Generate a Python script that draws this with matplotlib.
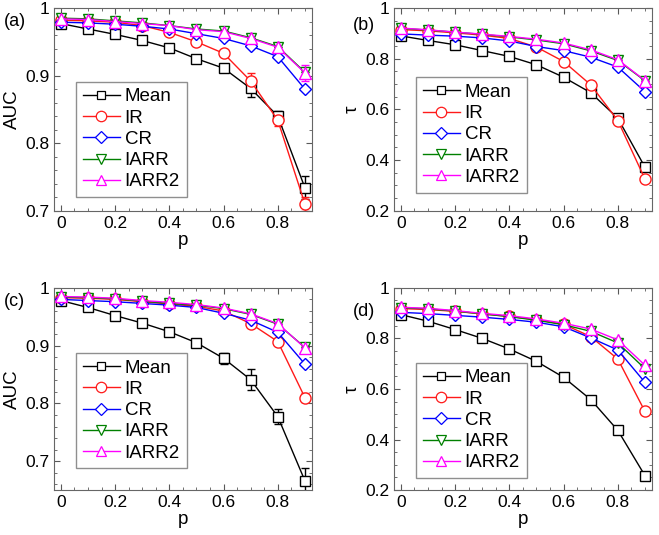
import matplotlib
matplotlib.use('Agg')
import matplotlib.pyplot as plt
import numpy as np
from matplotlib.lines import Line2D
from matplotlib.ticker import AutoMinorLocator, FormatStrFormatter

plt.rcParams['font.family'] = ['Liberation Sans', 'DejaVu Sans']

p = [0, 0.1, 0.2, 0.3, 0.4, 0.5, 0.6, 0.7, 0.8, 0.9]
names = ['Mean', 'IR', 'CR', 'IARR', 'IARR2']

###### (a) AUC ##########
a_mean  = [0.977, 0.969, 0.961, 0.952, 0.941, 0.925, 0.911, 0.881, 0.840, 0.734]
a_ir    = [0.982, 0.981, 0.979, 0.974, 0.964, 0.950, 0.933, 0.892, 0.834, 0.710]
a_cr    = [0.979, 0.978, 0.976, 0.973, 0.969, 0.962, 0.955, 0.944, 0.928, 0.880]
a_iarr  = [0.985, 0.984, 0.981, 0.978, 0.974, 0.969, 0.966, 0.956, 0.943, 0.905]
a_iarr2 = [0.984, 0.983, 0.980, 0.977, 0.974, 0.968, 0.965, 0.955, 0.942, 0.904]
a_err_mean = [0.002, 0.002, 0.002, 0.003, 0.003, 0.006, 0.004, 0.012, 0.008, 0.017]
a_err_ir   = [0.002, 0.002, 0.002, 0.002, 0.003, 0.004, 0.004, 0.012, 0.008, 0.010]
a_err_iarr2 = [0.002, 0.002, 0.002, 0.002, 0.002, 0.002, 0.003, 0.004, 0.005, 0.012]

###### (b) tau ##########
b_mean  = [0.890, 0.872, 0.855, 0.832, 0.809, 0.776, 0.727, 0.666, 0.565, 0.372]
b_ir    = [0.915, 0.910, 0.902, 0.893, 0.880, 0.846, 0.789, 0.697, 0.556, 0.325]
b_cr    = [0.898, 0.893, 0.889, 0.882, 0.870, 0.848, 0.832, 0.806, 0.767, 0.670]
b_iarr  = [0.920, 0.913, 0.905, 0.896, 0.886, 0.874, 0.859, 0.831, 0.793, 0.713]
b_iarr2 = [0.921, 0.914, 0.905, 0.897, 0.888, 0.877, 0.862, 0.835, 0.796, 0.714]

###### (c) AUC ##########
c_mean  = [0.978, 0.966, 0.952, 0.939, 0.924, 0.905, 0.878, 0.841, 0.777, 0.666]
c_ir    = [0.983, 0.982, 0.980, 0.976, 0.972, 0.968, 0.960, 0.938, 0.907, 0.810]
c_cr    = [0.980, 0.978, 0.976, 0.973, 0.970, 0.966, 0.956, 0.944, 0.923, 0.868]
c_iarr  = [0.984, 0.983, 0.981, 0.977, 0.973, 0.970, 0.964, 0.954, 0.937, 0.897]
c_iarr2 = [0.985, 0.984, 0.982, 0.978, 0.975, 0.971, 0.965, 0.955, 0.938, 0.896]
c_err_mean = [0.002, 0.002, 0.002, 0.003, 0.006, 0.004, 0.010, 0.018, 0.013, 0.022]
c_err_ir   = [0.002, 0.002, 0.002, 0.002, 0.002, 0.002, 0.003, 0.004, 0.004, 0.008]

###### (d) tau ##########
d_mean  = [0.894, 0.868, 0.835, 0.800, 0.758, 0.709, 0.646, 0.558, 0.436, 0.257]
d_ir    = [0.918, 0.914, 0.907, 0.897, 0.887, 0.874, 0.856, 0.807, 0.718, 0.511]
d_cr    = [0.903, 0.898, 0.891, 0.884, 0.875, 0.864, 0.846, 0.802, 0.754, 0.626]
d_iarr  = [0.921, 0.917, 0.908, 0.897, 0.886, 0.872, 0.854, 0.828, 0.782, 0.680]
d_iarr2 = [0.923, 0.919, 0.910, 0.899, 0.890, 0.877, 0.860, 0.837, 0.794, 0.694]

colors = ['black', '#ff1a1a', '#0000ff', '#008000', '#ff00ff']
markers = ['s', 'o', 'D', 'v', '^']
msizes = [6.5, 8, 6.5, 7, 8]
zero = [0] * 10


def panel(ax, series, errs, ylim, yticks, ylab, ymin_sub, leg_y):
    for i in range(5):
        ax.errorbar(p, series[i], yerr=errs[i], color=colors[i], marker=markers[i],
                    markersize=msizes[i], markerfacecolor='white', markeredgewidth=1,
                    lw=1, capsize=3, elinewidth=1)
    ax.set_xlim(-0.025, 0.925)
    ax.set_ylim(ylim)
    ax.set_xticks([0, 0.2, 0.4, 0.6, 0.8])
    ax.set_yticks(yticks)
    ax.xaxis.set_major_formatter(FormatStrFormatter('%g'))
    ax.yaxis.set_major_formatter(FormatStrFormatter('%g'))
    ax.xaxis.set_minor_locator(AutoMinorLocator(4))
    ax.yaxis.set_minor_locator(AutoMinorLocator(ymin_sub))
    ax.tick_params(which='both', direction='in', top=True, right=True, labelsize=12.5,
                   color='0.35')
    ax.tick_params(which='major', length=4)
    ax.tick_params(which='minor', length=2)
    for s in ax.spines.values():
        s.set_color('0.4')
    ax.set_xlabel('p', fontsize=13.5, labelpad=1)
    ax.set_ylabel(ylab, fontsize=13.5, labelpad=3)
    handles = []
    for i in range(5):
        handles.append(Line2D([], [], color=colors[i], marker=markers[i], lw=1,
                              markersize=msizes[i] - 0.5, markerfacecolor='white',
                              markeredgewidth=0.9))
    leg = ax.legend(handles, names, loc='lower left', bbox_to_anchor=(0.085, leg_y),
                    fontsize=13.5, handlelength=2.0, labelspacing=0.22,
                    handletextpad=0.25, borderpad=0.35, fancybox=False,
                    borderaxespad=0)
    leg.get_frame().set_edgecolor('0.45')
    leg.get_frame().set_linewidth(1)


fig = plt.figure(figsize=(6.59, 5.35), dpi=100)
ax_a = fig.add_axes([0.082, 0.606, 0.391, 0.379])
ax_b = fig.add_axes([0.598, 0.606, 0.391, 0.379])
ax_c = fig.add_axes([0.082, 0.084, 0.391, 0.378])
ax_d = fig.add_axes([0.598, 0.084, 0.391, 0.378])

panel(ax_a, [a_mean, a_ir, a_cr, a_iarr, a_iarr2],
      [a_err_mean, a_err_ir, zero, zero, a_err_iarr2],
      (0.7, 1.0), [0.7, 0.8, 0.9, 1.0], 'AUC', 5, 0.068)
panel(ax_b, [b_mean, b_ir, b_cr, b_iarr, b_iarr2],
      [zero, zero, zero, zero, zero],
      (0.2, 1.0), [0.2, 0.4, 0.6, 0.8, 1.0], '\u03c4', 4, 0.09)
panel(ax_c, [c_mean, c_ir, c_cr, c_iarr, c_iarr2],
      [c_err_mean, c_err_ir, zero, zero, zero],
      (0.65, 1.0), [0.7, 0.8, 0.9, 1.0], 'AUC', 5, 0.108)
panel(ax_d, [d_mean, d_ir, d_cr, d_iarr, d_iarr2],
      [zero, zero, zero, zero, zero],
      (0.2, 1.0), [0.2, 0.4, 0.6, 0.8, 1.0], '\u03c4', 4, 0.06)

fig.text(0.006, 0.96, '(a)', fontsize=13, va='center')
fig.text(0.535, 0.953, '(b)', fontsize=13, va='center')
fig.text(0.006, 0.436, '(c)', fontsize=13, va='center')
fig.text(0.535, 0.418, '(d)', fontsize=13, va='center')

fig.savefig('out.png', dpi=100)
